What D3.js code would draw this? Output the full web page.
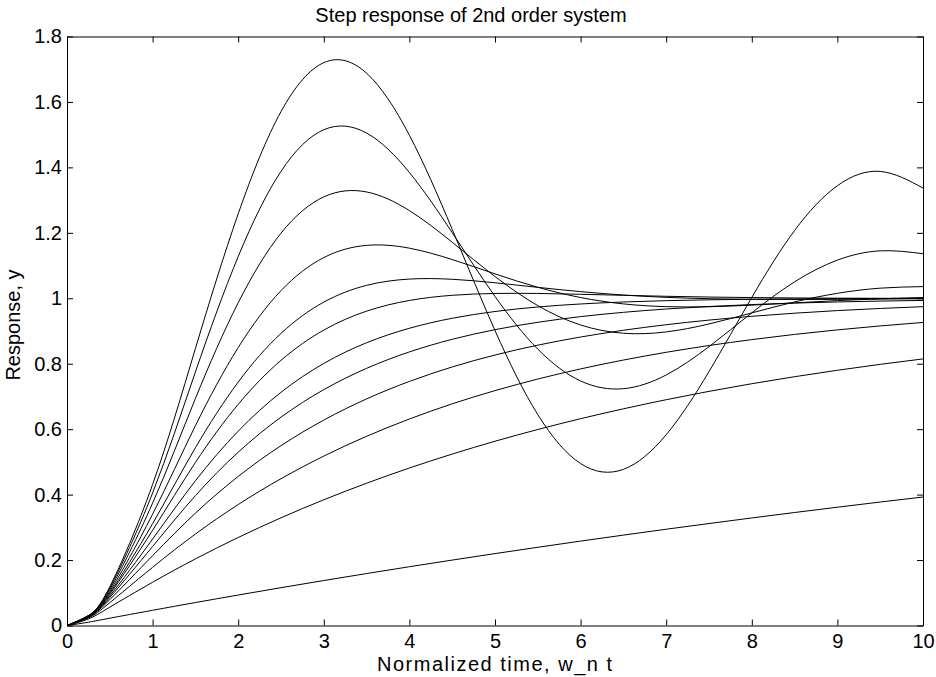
<!DOCTYPE html>
<html>
<head>
<meta charset="utf-8">
<script src="https://cdn.jsdelivr.net/npm/d3@7"></script>
<style>
  body { margin: 0; background: #fff; }
  text { font-family: "Liberation Sans", Arial, Helvetica, sans-serif; fill: #000; }
</style>
</head>
<body>
<div id="chart"></div>
<script>
// normalized time samples (w_n t)
const times = [0, 0.25, 0.5, 1, 1.5, 2, 2.5, 3, 3.5, 4, 4.5, 5, 5.5, 6, 6.5, 7, 7.5, 8, 8.5, 9, 9.5, 10];

// responses, one array per curve (lightest damping first)
const resp1 = [0, 0.0306, 0.1185, 0.4310, 0.8464, 1.2581, 1.5705, 1.7201, 1.6878, 1.4983, 1.2107, 0.9014, 0.6445, 0.4949, 0.4772, 0.5830, 0.7759, 1.0026, 1.2072, 1.3440, 1.3877, 1.3369];
const resp2 = [0, 0.0301, 0.1147, 0.4050, 0.7748, 1.1275, 1.3880, 1.5151, 1.5049, 1.3845, 1.2006, 1.0055, 0.8446, 0.7473, 0.7237, 0.7657, 0.8521, 0.9556, 1.0503, 1.1166, 1.1450, 1.1361];
const resp3 = [0, 0.0294, 0.1099, 0.3740, 0.6936, 0.9864, 1.1990, 1.3099, 1.3249, 1.2679, 1.1713, 1.0665, 0.9775, 0.9184, 0.8931, 0.8972, 0.9215, 0.9553, 0.9888, 1.0152, 1.0309, 1.0357];
const resp4 = [0, 0.0286, 0.1044, 0.3403, 0.6105, 0.8494, 1.0234, 1.1244, 1.1617, 1.1531, 1.1184, 1.0746, 1.0336, 1.0023, 0.9828, 0.9744, 0.9742, 0.9790, 0.9860, 0.9929, 0.9985, 1.0022];
const resp5 = [0, 0.0279, 0.0993, 0.3113, 0.5432, 0.7439, 0.8927, 0.9883, 1.0395, 1.0587, 1.0581, 1.0474, 1.0334, 1.0203, 1.0099, 1.0028, 0.9987, 0.9968, 0.9964, 0.9968, 0.9976, 0.9985];
const resp6 = [0, 0.0273, 0.0955, 0.2909, 0.4982, 0.6759, 0.8104, 0.9028, 0.9607, 0.9933, 1.0091, 1.0147, 1.0147, 1.0122, 1.0091, 1.0061, 1.0038, 1.0021, 1.0010, 1.0003, 1.0000, 0.9998];
const resp7 = [0, 0.0265, 0.0902, 0.2642, 0.4422, 0.5940, 0.7127, 0.8009, 0.8641, 0.9084, 0.9389, 0.9596, 0.9734, 0.9826, 0.9887, 0.9927, 0.9953, 0.9970, 0.9981, 0.9988, 0.9992, 0.9995];
const resp8 = [0, 0.0257, 0.0854, 0.2415, 0.3968, 0.5296, 0.6367, 0.7208, 0.7859, 0.8361, 0.8746, 0.9041, 0.9266, 0.9439, 0.9571, 0.9672, 0.9749, 0.9808, 0.9853, 0.9888, 0.9914, 0.9934];
const resp9 = [0, 0.0246, 0.0789, 0.2133, 0.3432, 0.4555, 0.5496, 0.6278, 0.6925, 0.7459, 0.7901, 0.8266, 0.8567, 0.8816, 0.9022, 0.9192, 0.9333, 0.9449, 0.9544, 0.9624, 0.9689, 0.9743];
const resp10 = [0, 0.0229, 0.0697, 0.1778, 0.2795, 0.3696, 0.4486, 0.5178, 0.5782, 0.6311, 0.6774, 0.7178, 0.7532, 0.7842, 0.8112, 0.8349, 0.8556, 0.8737, 0.8896, 0.9034, 0.9155, 0.9261];
const resp11 = [0, 0.0200, 0.0560, 0.1322, 0.2035, 0.2690, 0.3291, 0.3842, 0.4348, 0.4813, 0.5239, 0.5631, 0.5990, 0.6320, 0.6622, 0.6900, 0.7155, 0.7389, 0.7603, 0.7800, 0.7981, 0.8147];
const resp12 = [0, 0.0100, 0.0223, 0.0465, 0.0701, 0.0931, 0.1156, 0.1374, 0.1588, 0.1796, 0.1999, 0.2197, 0.2390, 0.2579, 0.2762, 0.2942, 0.3116, 0.3287, 0.3453, 0.3615, 0.3773, 0.3927];

const xTicks = [0, 1, 2, 3, 4, 5, 6, 7, 8, 9, 10];
const xTickLabels = ["0", "1", "2", "3", "4", "5", "6", "7", "8", "9", "10"];
const yTicks = [0, 0.2, 0.4, 0.6, 0.8, 1, 1.2, 1.4, 1.6, 1.8];
const yTickLabels = ["0", "0.2", "0.4", "0.6", "0.8", "1", "1.2", "1.4", "1.6", "1.8"];

const width = 936;
const height = 677;
const margin = { top: 36.5, left: 67, bottom: 51.5, right: 13 };
const iwidth = width - margin.left - margin.right;
const iheight = height - margin.top - margin.bottom;

const svg = d3.select("#chart").append("svg")
  .attr("width", width)
  .attr("height", height);

const g = svg.append("g")
  .attr("transform", `translate(${margin.left},${margin.top})`);

const x = d3.scaleLinear().domain([0, 10]).range([0, iwidth]);
const y = d3.scaleLinear().domain([0, 1.8]).range([iheight, 0]);

const series = [resp1, resp2, resp3, resp4, resp5, resp6, resp7, resp8, resp9, resp10, resp11, resp12];

const line = d3.line()
  .x((d, i) => x(times[i]))
  .y((d) => y(d))
  .curve(d3.curveNatural);

g.append("g")
  .selectAll("path")
  .data(series)
  .join("path")
  .attr("fill", "none")
  .attr("stroke", "#000")
  .attr("stroke-width", 1)
  .attr("d", line);

// box axes, ticks pointing inward like matlab
const fontSize = 20;

g.append("g")
  .attr("transform", `translate(0,${iheight})`)
  .call(d3.axisBottom(x).tickValues(xTicks).tickFormat((d, i) => xTickLabels[i])
    .tickSizeInner(-6).tickSizeOuter(0).tickPadding(8));

g.append("g")
  .call(d3.axisLeft(y).tickValues(yTicks).tickFormat((d, i) => yTickLabels[i])
    .tickSizeInner(-6).tickSizeOuter(0).tickPadding(5));

g.append("g")
  .call(d3.axisTop(x).tickValues(xTicks).tickFormat("")
    .tickSizeInner(-6).tickSizeOuter(0));

g.append("g")
  .attr("transform", `translate(${iwidth},0)`)
  .call(d3.axisRight(y).tickValues(yTicks).tickFormat("")
    .tickSizeInner(-6).tickSizeOuter(0));

g.selectAll(".domain, .tick line").attr("stroke", "#000").attr("stroke-width", 1);
g.selectAll(".tick text")
  .style("font-size", fontSize + "px")
  .style("font-family", "'Liberation Sans', Arial, sans-serif")
  .attr("fill", "#000");

svg.append("text")
  .attr("x", 471)
  .attr("y", 22)
  .attr("text-anchor", "middle")
  .style("font-size", "20px")
  .text("Step response of 2nd order system");

// the x label is set wider in the original
svg.append("text")
  .attr("x", 494.5)
  .attr("y", 671)
  .attr("text-anchor", "middle")
  .attr("textLength", 235)
  .attr("lengthAdjust", "spacing")
  .style("font-size", "20px")
  .text("Normalized time, w_n t");

svg.append("text")
  .attr("transform", `translate(20,325) rotate(-90)`)
  .attr("text-anchor", "middle")
  .style("font-size", "20px")
  .text("Response, y");
</script>
</body>
</html>
